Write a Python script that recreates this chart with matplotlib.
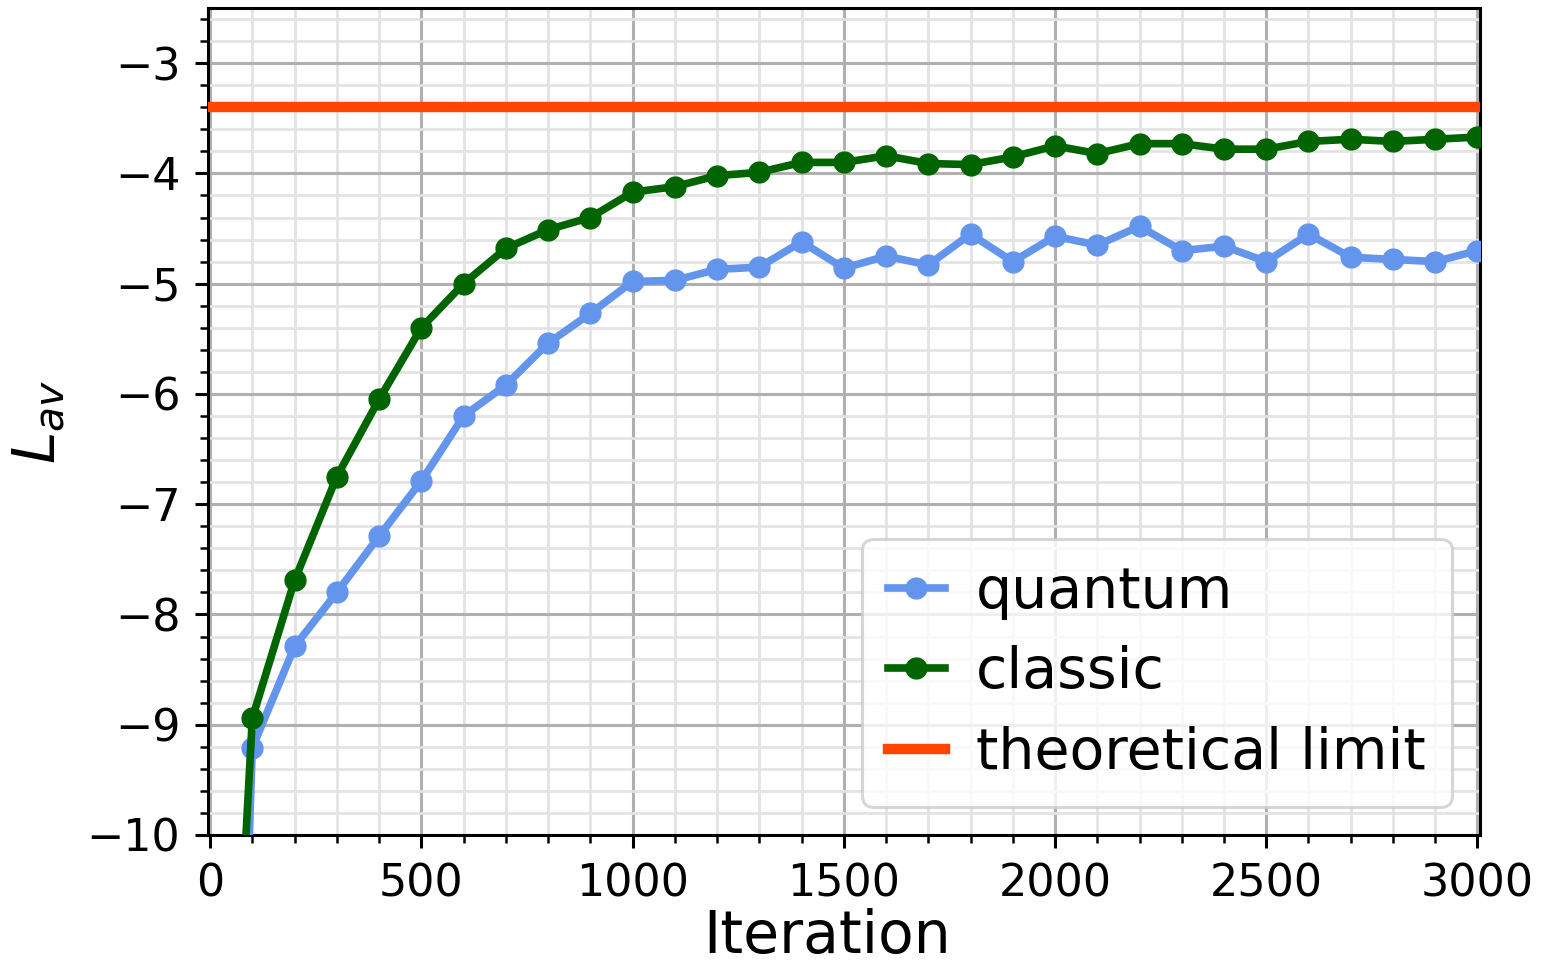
import numpy as np
import matplotlib
matplotlib.use("Agg")
import matplotlib.pyplot as plt
from matplotlib.ticker import MultipleLocator

# Training curves: average log-likelihood per iteration
iterations = [0, 100, 200, 300, 400, 500, 600, 700, 800, 900, 1000,
              1100, 1200, 1300, 1400, 1500, 1600, 1700, 1800, 1900, 2000,
              2100, 2200, 2300, 2400, 2500, 2600, 2700, 2800, 2900, 3000]

quantum = [-20.0, -9.21, -8.29, -7.80, -7.29, -6.79, -6.20, -5.92, -5.54, -5.27, -4.98,
           -4.97, -4.87, -4.85, -4.62, -4.86, -4.75, -4.83, -4.55, -4.80, -4.57,
           -4.65, -4.48, -4.70, -4.66, -4.80, -4.55, -4.76, -4.78, -4.80, -4.70]

classic = [-16.0, -8.94, -7.69, -6.75, -6.05, -5.40, -5.00, -4.68, -4.51, -4.40, -4.17,
           -4.12, -4.02, -3.99, -3.90, -3.90, -3.84, -3.91, -3.92, -3.85, -3.75,
           -3.82, -3.73, -3.73, -3.78, -3.78, -3.71, -3.69, -3.71, -3.69, -3.67]

theoretical_limit = -3.40

fig = plt.figure(figsize=(15.42, 9.68), dpi=100)
ax = fig.add_axes([0.1346, 0.1374, 0.8252, 0.8543])

ax.plot(iterations, quantum, color="cornflowerblue", lw=5.5, marker="o",
        ms=15, label="quantum", zorder=3)
ax.plot(iterations, classic, color="darkgreen", lw=5.5, marker="o",
        ms=15, label="classic", zorder=4)
ax.axhline(theoretical_limit, color="orangered", lw=7.5,
           label="theoretical limit", zorder=5)

ax.set_xlim(-6, 3006)
ax.set_ylim(-10, -2.5)

ax.xaxis.set_major_locator(MultipleLocator(500))
ax.xaxis.set_minor_locator(MultipleLocator(100))
ax.yaxis.set_major_locator(MultipleLocator(1))
ax.yaxis.set_minor_locator(MultipleLocator(0.2))

ax.grid(which="major", color="#b0b0b0", lw=2.2)
ax.grid(which="minor", color="#e3e3e3", lw=2.0)
ax.set_axisbelow(True)

for s in ax.spines.values():
    s.set_linewidth(2.2)
ax.tick_params(which="major", length=9.5, width=2.2, labelsize=32, pad=10)
ax.tick_params(which="minor", length=5.5, width=1.8)

ax.set_xlabel("Iteration", fontsize=42, labelpad=2, x=0.487)
ax.set_ylabel(r"$L_{av}$", fontsize=42, labelpad=14)

leg = ax.legend(loc="lower right", fontsize=41, handlelength=1.0,
                handletextpad=0.55, borderpad=0.45, labelspacing=0.45,
                framealpha=0.8, edgecolor="#cccccc")
leg.get_frame().set_linewidth(2.2)

fig.savefig("out.png", dpi=100)
